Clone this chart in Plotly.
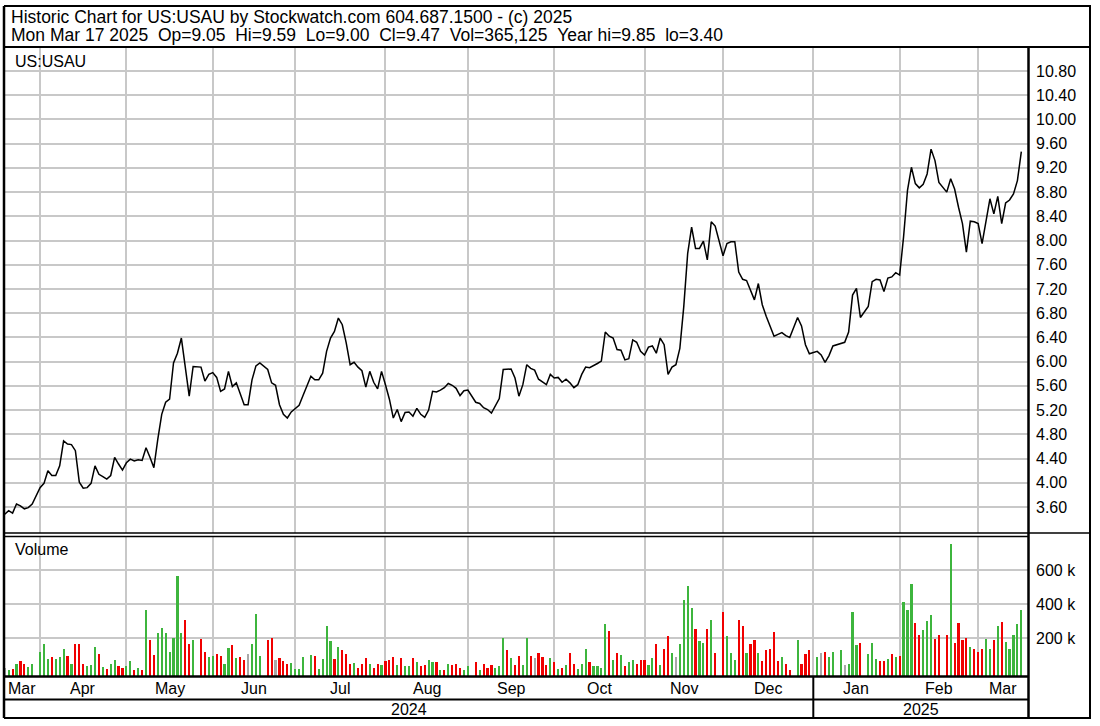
import pandas as pd
import plotly.graph_objects as go

# ---------------- data ----------------
axis_start = "2024-03-18"
axis_end = "2025-03-17"
first_trade = "2024-03-19"
holidays = ["2024-03-29", "2024-05-27", "2024-06-19", "2024-07-04", "2024-09-02",
            "2024-11-28", "2024-12-25", "2025-01-01", "2025-01-09", "2025-01-20",
            "2025-02-17"]

close_mar24 = [3.48, 3.54, 3.50, 3.65, 3.62, 3.57, 3.59, 3.65]
close_apr24 = [3.92, 3.99, 4.20, 4.12, 4.12, 4.28, 4.69, 4.64, 4.63, 4.53, 4.01,
               3.91, 3.92, 3.99, 4.28, 4.14, 4.10, 4.06, 4.12, 4.42, 4.31, 4.21]
close_may24 = [4.33, 4.39, 4.36, 4.38, 4.37, 4.58, 4.42, 4.25, 4.72, 5.13, 5.33,
               5.38, 5.98, 6.14, 6.39, 5.92, 5.43, 5.92, 5.91, 5.68, 5.79, 5.82]
close_jun24 = [5.74, 5.51, 5.55, 5.84, 5.59, 5.65, 5.48, 5.29, 5.29, 5.70, 5.93,
               5.98, 5.87, 5.65, 5.61, 5.29, 5.13, 5.07, 5.17]
close_jul24 = [5.22, 5.28, 5.44, 5.76, 5.70, 5.70, 5.81, 6.17, 6.39, 6.50, 6.72,
               6.61, 6.31, 5.95, 5.99, 5.91, 5.85, 5.58, 5.84, 5.66, 5.55, 5.84]
close_aug24 = [5.62, 5.38, 5.07, 5.21, 5.01, 5.16, 5.17, 5.10, 5.23, 5.13, 5.08,
               5.20, 5.51, 5.50, 5.53, 5.57, 5.64, 5.61, 5.56, 5.44, 5.52, 5.53]
close_sep24 = [5.33, 5.31, 5.24, 5.21, 5.15, 5.26, 5.39, 5.87, 5.88, 5.88, 5.73,
               5.43, 5.62, 5.95, 5.89, 5.86, 5.71, 5.67, 5.62, 5.79]
close_oct24 = [5.73, 5.74, 5.66, 5.71, 5.65, 5.57, 5.62, 5.79, 5.91, 5.90, 5.93,
               5.97, 6.01, 6.49, 6.42, 6.39, 6.20, 6.19, 6.03, 6.05, 6.36, 6.32, 6.17]
close_nov24 = [6.11, 6.24, 6.26, 6.14, 6.39, 6.28, 5.79, 5.91, 5.95, 6.22, 6.91,
               7.79, 8.22, 7.87, 7.87, 7.99, 7.68, 8.31, 8.24, 7.75]
close_dec24 = [7.95, 7.98, 7.98, 7.48, 7.36, 7.34, 7.17, 7.02, 7.29, 6.94, 6.75,
               6.59, 6.42, 6.45, 6.48, 6.43, 6.40, 6.73, 6.59, 6.28, 6.13]
close_jan25 = [6.17, 6.11, 5.99, 6.10, 6.26, 6.30, 6.32, 6.49, 7.10, 7.21, 6.73,
               6.91, 7.32, 7.36, 7.35, 7.16, 7.38, 7.40, 7.47, 7.43]
close_feb25 = [8.06, 8.83, 9.21, 8.94, 8.87, 8.93, 9.10, 9.51, 9.32, 8.96, 8.80,
               9.02, 8.85, 8.55, 8.28, 7.81, 8.32, 8.31, 8.28]
close_mar25 = [7.95, 8.33, 8.69, 8.44, 8.73, 8.28, 8.62, 8.67, 8.77, 8.99, 9.47]

# volume in thousands of shares
vol_mar24 = [22, 12, 20, 47, 65, 49, 31, 47]
vol_apr24 = [118, 165, 78, 86, 78, 86, 133, 94, 47, 165, 165, 49, 33, 39, 149, 104,
             31, 20, 47, 71, 33, 25]
vol_may24 = [35, 65, 12, 25, 12, 365, 188, 102, 227, 257, 227, 120, 200, 567, 227,
             306, 165, 188, 196, 118, 88, 94]
vol_jun24 = [104, 94, 47, 141, 157, 80, 88, 73, 108, 165, 343, 94, 188, 202, 71, 80,
             65, 49, 55]
vol_jul24 = [18, 18, 86, 102, 96, 18, 78, 273, 180, 75, 149, 127, 104, 49, 55, 25,
             49, 80, 49, 25, 49, 41]
vol_aug24 = [65, 73, 86, 41, 80, 33, 33, 80, 57, 33, 41, 71, 57, 57, 12, 10, 47, 41,
             49, 25, 12, 33]
vol_sep24 = [57, 10, 49, 25, 41, 25, 33, 200, 127, 80, 41, 94, 41, 200, 94, 80, 112,
             86, 41, 80]
vol_oct24 = [57, 18, 25, 41, 110, 49, 18, 49, 133, 57, 33, 33, 25, 280, 241, 71, 110,
             102, 33, 57, 73, 49, 73]
vol_nov24 = [73, 41, 80, 165, 41, 133, 210, 110, 86, 165, 426, 506, 378, 251, 180,
             173, 251, 304, 110, 351]
vol_dec24 = [210, 110, 71, 304, 273, 110, 165, 188, 110, 65, 127, 133, 235, 65, 86,
             49, 12, 188, 49, 104, 127]
vol_jan25 = [86, 110, 118, 88, 118, 127, 41, 49, 355, 157, 173, 104, 173, 78, 63, 63,
             78, 104, 88, 94]
vol_feb25 = [412, 365, 520, 286, 218, 247, 302, 333, 196, 218, 218, 751, 173, 286,
             186, 202, 147, 133, 118]
vol_mar25 = [133, 196, 133, 186, 271, 294, 178, 133, 218, 280, 365.125]

# day direction: G = up, R = down, N = unchanged
dir_mar24 = "NGRGRRGG"
dir_apr24 = "GGGRGGGRGRRRGGGRGRGGRR"
dir_may24 = "GGRGRGRRGGGGGGGRRGRRGG"
dir_jun24 = "RRGGRGRRNGGGRRNRRRG"
dir_jul24 = "GGGGRGGGGRGRRRGRRRGRRG"
dir_aug24 = "RRRGRGGRGRRGGRGRGRRRGG"
dir_sep24 = "RGRRRGGGRGRRGGRNRRRG"
dir_oct24 = "RGRGRRGGGRGGGGRGRGRGGRR"
dir_nov24 = "RGGRGRRGNGGGGRGGRGRR"
dir_dec24 = "GGGRRGRRGRRRRRGRRGRRR"
dir_jan25 = "GNRGGGNGGGRGGGRRGRGR"
dir_feb25 = "GGGRRGGGRRRGRRRRGRR"
dir_mar25 = "RGGRGRGGGGG"

month_names = ["Mar", "Apr", "May", "Jun", "Jul", "Aug", "Sep", "Oct", "Nov", "Dec",
               "Jan", "Feb", "Mar"]
month_starts = ["2024-04-01", "2024-05-01", "2024-06-01", "2024-07-01", "2024-08-01",
                "2024-09-01", "2024-10-01", "2024-11-01", "2024-12-01", "2025-01-01",
                "2025-02-01", "2025-03-01"]
years = ["2024", "2025"]
price_ticks = [3.60, 4.00, 4.40, 4.80, 5.20, 5.60, 6.00, 6.40, 6.80, 7.20, 7.60, 8.00,
               8.40, 8.80, 9.20, 9.60, 10.00, 10.40, 10.80]
vol_ticks = [200000, 400000, 600000]
vol_tick_text = ["200 k", "400 k", "600 k"]

header1 = "Historic Chart for US:USAU by Stockwatch.com 604.687.1500 - (c) 2025"
header2 = ("Mon Mar 17 2025  Op=9.05  Hi=9.59  Lo=9.00  Cl=9.47  Vol=365,125  "
           "Year hi=9.85  lo=3.40")
symbol = "US:USAU"

# ---------------- assemble ----------------
close = (close_mar24 + close_apr24 + close_may24 + close_jun24 + close_jul24 +
         close_aug24 + close_sep24 + close_oct24 + close_nov24 + close_dec24 +
         close_jan25 + close_feb25 + close_mar25)
volume = [v * 1000 for v in (vol_mar24 + vol_apr24 + vol_may24 + vol_jun24 + vol_jul24 +
                             vol_aug24 + vol_sep24 + vol_oct24 + vol_nov24 + vol_dec24 +
                             vol_jan25 + vol_feb25 + vol_mar25)]
direction = (dir_mar24 + dir_apr24 + dir_may24 + dir_jun24 + dir_jul24 + dir_aug24 +
             dir_sep24 + dir_oct24 + dir_nov24 + dir_dec24 + dir_jan25 + dir_feb25 +
             dir_mar25)

weekdays = pd.bdate_range(axis_start, axis_end)
hol = set(pd.to_datetime(holidays))
trade_days = [d for d in weekdays if d not in hol and d >= pd.Timestamp(first_trade)]
pos = {d: i for i, d in enumerate(weekdays)}
n = min(len(trade_days), len(close))
xs = [pos[d] for d in trade_days[:n]]

W, H = 1100, 726
def PX(p):
    return p / W
def PY(p):
    return 1 - p / H

# axis geometry (pixels)
plot_l, plot_r = 4, 1028
price_top, price_bot = 47, 533
vol_top, vol_bot = 536, 676
x_lo, x_hi = 0.815, 261.7
py_per = (507 - 71) / (10.80 - 3.60)
p_hi = 10.80 + (71 - price_top) / py_per
p_lo = 3.60 - (price_bot - 507) / py_per
v_per = 200000 / 34.0
v_hi = (672 - vol_top) * v_per
v_lo = (672 - vol_bot) * v_per

grid_idx = [int(weekdays.searchsorted(pd.Timestamp(m), side="right")) - 1
            for m in month_starts]

colors = {"G": "#3db53d", "R": "#f00000", "N": "#a8a8a8"}
bar_colors = [colors[c] for c in direction[:n]]

font = "Liberation Sans, Arial, sans-serif"
grid_c = "#c8c8c8"

fig = go.Figure()
fig.add_trace(go.Scatter(x=xs, y=close[:n], mode="lines",
                         line=dict(color="black", width=1.5),
                         xaxis="x", yaxis="y", hoverinfo="skip"))
fig.add_trace(go.Bar(x=xs, y=[v - v_lo for v in volume[:n]], base=v_lo,
                     marker=dict(color=bar_colors, line=dict(width=0)),
                     width=0.55, xaxis="x2", yaxis="y2", hoverinfo="skip"))

common_x = dict(range=[x_lo, x_hi], domain=[PX(plot_l), PX(plot_r)],
                tickmode="array", tickvals=grid_idx, showticklabels=False,
                showgrid=True, gridcolor=grid_c, gridwidth=1.5, zeroline=False,
                showline=False, ticks="", fixedrange=True)
fig.update_layout(
    width=W, height=H, margin=dict(l=0, r=0, t=0, b=0),
    paper_bgcolor="white", plot_bgcolor="white", showlegend=False,
    bargap=0,
    xaxis=dict(anchor="y", **common_x),
    xaxis2=dict(anchor="y2", matches="x", **common_x),
    yaxis=dict(domain=[1 - price_bot / H, 1 - price_top / H], range=[p_lo, p_hi],
               side="right", anchor="x", tickmode="array", tickvals=price_ticks,
               ticktext=["%.2f" % t for t in price_ticks], showgrid=True,
               gridcolor=grid_c, gridwidth=1.5, zeroline=False, ticks="",
               ticklabelstandoff=7,
               tickfont=dict(family=font, size=16, color="black")),
    yaxis2=dict(domain=[1 - vol_bot / H, 1 - vol_top / H], range=[v_lo, v_hi],
                side="right", anchor="x2", tickmode="array", tickvals=vol_ticks,
                ticktext=vol_tick_text, showgrid=True, gridcolor=grid_c,
                gridwidth=1.5, zeroline=False, ticks="", ticklabelstandoff=7,
                tickfont=dict(family=font, size=16, color="black")),
)

ann = []
def text(x, y, s, size=16, xref="paper", anchor="left"):
    ann.append(dict(x=x, y=y, xref=xref, yref="paper", text=s.replace(" ", "\u00a0"),
                    showarrow=False, xanchor=anchor, yanchor="middle",
                    font=dict(family=font, size=size, color="black")))

text(PX(9), PY(17), header1, 17.5)
text(PX(9), PY(35), header2, 17.5)
text(PX(13), PY(62), symbol, 16)
text(PX(13), PY(549), "Volume", 16)

edges = [x_lo] + grid_idx + [x_hi]
for i, name in enumerate(month_names):
    text((edges[i] + edges[i + 1]) / 2, PY(688), name, 16, xref="x", anchor="center")
jan_idx = grid_idx[9]
text((x_lo + jan_idx) / 2, PY(709), years[0], 16, xref="x", anchor="center")
text((jan_idx + x_hi) / 2, PY(709), years[1], 16, xref="x", anchor="center")
fig.update_layout(annotations=ann)

shapes = []
def hline(y, x0, x1, w=2):
    shapes.append(dict(type="line", xref="paper", yref="paper", x0=PX(x0), x1=PX(x1),
                       y0=PY(y), y1=PY(y), line=dict(color="black", width=w),
                       layer="above"))
def vline(x, y0, y1, w=2):
    shapes.append(dict(type="line", xref="paper", yref="paper", x0=PX(x), x1=PX(x),
                       y0=PY(y0), y1=PY(y1), line=dict(color="black", width=w),
                       layer="above"))

hline(6, 4, 1091)
hline(47, 4, 1091)
hline(533, 4, 1091, 1.5)
hline(536.5, 4, 1028, 1.5)
hline(676.5, 4, 1028, 2.5)
hline(699.5, 4, 1028, 2)
hline(718, 4, 1091, 2)
vline(4, 6, 718, 2.5)
vline(1028.5, 47, 718, 2.5)
vline(1090, 6, 718, 2)
shapes.append(dict(type="line", xref="x", yref="paper", x0=jan_idx, x1=jan_idx,
                   y0=PY(676.5), y1=PY(718), line=dict(color="black", width=2),
                   layer="above"))
fig.update_layout(shapes=shapes)

fig.write_html("out.html", config={"displayModeBar": False},
               post_script="document.body.style.margin='0';"
                           "document.body.style.overflow='hidden';")
